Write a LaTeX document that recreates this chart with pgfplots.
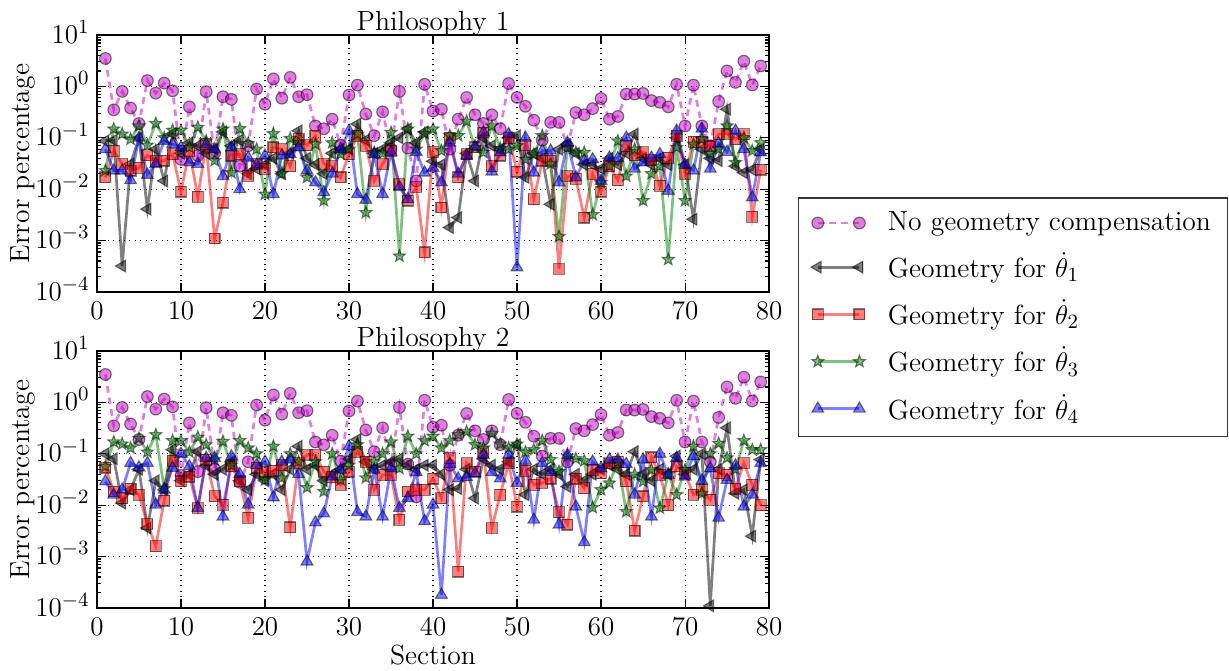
\documentclass[border=0pt,12pt]{standalone}
\usepackage{pgfplots}
\usepackage{pgfplotstable}
\pgfplotsset{compat=1.18}

% filled five-pointed star marker
\pgfdeclareplotmark{fstar}{%
  \pgfpathmoveto{\pgfpointpolar{90}{\pgfplotmarksize}}%
  \pgfpathlineto{\pgfpointpolar{126}{0.42\pgfplotmarksize}}%
  \pgfpathlineto{\pgfpointpolar{162}{\pgfplotmarksize}}%
  \pgfpathlineto{\pgfpointpolar{198}{0.42\pgfplotmarksize}}%
  \pgfpathlineto{\pgfpointpolar{234}{\pgfplotmarksize}}%
  \pgfpathlineto{\pgfpointpolar{270}{0.42\pgfplotmarksize}}%
  \pgfpathlineto{\pgfpointpolar{306}{\pgfplotmarksize}}%
  \pgfpathlineto{\pgfpointpolar{342}{0.42\pgfplotmarksize}}%
  \pgfpathlineto{\pgfpointpolar{18}{\pgfplotmarksize}}%
  \pgfpathlineto{\pgfpointpolar{54}{0.42\pgfplotmarksize}}%
  \pgfpathclose
  \pgfusepathqfillstroke
}

\definecolor{cm}{rgb}{0.75,0,0.75}
\definecolor{cg}{rgb}{0,0.5,0}

% columns: section, no compensation, geometry for theta1..theta4
\pgfplotstableread{
x m a b c d
1 3.5 0.087 0.017 0.023 0.06
2 0.35 0.09 0.056 0.148 0.023
3 0.8 0.00032 0.031 0.118 0.023
4 0.38 0.031 0.023 0.094 0.015
5 0.19 0.1 0.026 0.17 0.10
6 1.3 0.0041 0.046 0.072 0.019
7 0.74 0.06 0.035 0.19 0.031
8 1.16 0.0145 0.036 0.1 0.087
9 0.82 0.12 0.048 0.14 0.075
10 0.038 0.05 0.009 0.14 0.065
11 0.4 0.08 0.056 0.065 0.033
12 0.045 0.07 0.0071 0.16 0.031
13 0.79 0.05 0.075 0.087 0.075
14 0.05 0.06 0.0011 0.036 0.06
15 0.63 0.13 0.0055 0.148 0.018
16 0.56 0.07 0.045 0.021 0.065
17 0.028 0.09 0.048 0.15 0.01
18 0.07 0.02 0.018 0.078 0.041
19 0.89 0.025 0.031 0.06 0.03
20 0.45 0.03 0.025 0.008 0.045
21 1.4 0.04 0.065 0.12 0.008
22 0.59 0.02 0.06 0.02 0.045
23 1.5 0.05 0.028 0.097 0.048
24 0.63 0.137 0.094 0.08 0.065
25 0.69 0.04 0.072 0.017 0.023
26 0.17 0.03 0.11 0.075 0.0135
27 0.15 0.02 0.031 0.006 0.0087
28 0.23 0.05 0.028 0.08 0.02
29 0.072 0.06 0.017 0.048 0.06
30 0.68 0.06 0.048 0.06 0.137
31 1.06 0.185 0.11 0.118 0.008
32 0.29 0.09 0.07 0.0035 0.0062
33 0.11 0.05 0.0145 0.052 0.048
34 0.32 0.06 0.031 0.05 0.008
35 0.06 0.08 0.056 0.127 0.053
36 0.8 0.1 0.0125 0.0005 0.011
37 0.063 0.148 0.006 0.148 0.0064
38 0.0145 0.08 0.011 0.06 0.053
39 1.1 0.13 0.00059 0.12 0.021
40 0.33 0.035 0.053 0.148 0.026
41 0.36 0.03 0.0044 0.056 0.0135
42 0.06 0.0018 0.1 0.11 0.08
43 0.23 0.0028 0.017 0.11 0.02
44 0.61 0.05 0.048 0.21 0.045
45 0.28 0.0145 0.065 0.065 0.068
46 0.19 0.1 0.127 0.052 0.127
47 0.28 0.07 0.028 0.17 0.022
48 0.15 0.06 0.045 0.062 0.052
49 1.14 0.1 0.1 0.06 0.118
50 0.61 0.11 0.022 0.07 0.0003
51 0.41 0.017 0.072 0.038 0.1
52 0.22 0.05 0.0064 0.048 0.021
53 0.09 0.04 0.036 0.11 0.056
54 0.2 0.0051 0.036 0.031 0.056
55 0.2 0.06 0.00028 0.0012 0.0135
56 0.07 0.075 0.018 0.065 0.08
57 0.31 0.05 0.016 0.052 0.017
58 0.28 0.03 0.0028 0.052 0.036
59 0.37 0.03 0.02 0.0032 0.038
60 0.58 0.025 0.009 0.0135 0.0145
61 0.23 0.04 0.028 0.028 0.041
62 0.26 0.03 0.015 0.087 0.04
63 0.71 0.05 0.07 0.018 0.1
64 0.71 0.118 0.046 0.06 0.025
65 0.73 0.04 0.053 0.006 0.033
66 0.53 0.03 0.037 0.02 0.041
67 0.49 0.04 0.0116 0.028 0.048
68 0.40 0.03 0.041 0.00043 0.0093
69 1.1 0.1 0.11 0.065 0.137
70 0.17 0.03 0.02 0.006 0.03
71 1.06 0.0026 0.084 0.075 0.023
72 0.17 0.06 0.084 0.094 0.15
73 0.07 0.04 0.068 0.05 0.025
74 0.51 0.036 0.118 0.06 0.078
75 2.0 0.36 0.12 0.17 0.053
76 1.2 0.028 0.094 0.033 0.137
77 3.1 0.021 0.118 0.1 0.06
78 1.07 0.024 0.0029 0.056 0.0069
79 2.5 0.06 0.024 0.08 0.052
}\philA

\pgfplotstableread{
x m a b c d
1 3.5 0.1 0.054 0.057 0.029
2 0.35 0.08 0.0185 0.17 0.016
3 0.8 0.011 0.0137 0.155 0.02
4 0.38 0.02 0.021 0.13 0.066
5 0.19 0.05 0.016 0.2 0.054
6 1.3 0.0036 0.0043 0.108 0.066
7 0.74 0.03 0.0016 0.235 0.0102
8 1.16 0.02 0.0123 0.021 0.02
9 0.82 0.12 0.073 0.18 0.053
10 0.038 0.03 0.029 0.18 0.1
11 0.4 0.04 0.036 0.108 0.057
12 0.045 0.11 0.0088 0.21 0.0088
13 0.79 0.06 0.077 0.15 0.083
14 0.05 0.04 0.015 0.077 0.083
15 0.63 0.05 0.0102 0.174 0.006
16 0.56 0.07 0.057 0.06 0.089
17 0.028 0.03 0.029 0.18 0.04
18 0.07 0.02 0.0057 0.13 0.0102
19 0.89 0.04 0.054 0.1 0.06
20 0.45 0.03 0.045 0.031 0.07
21 1.4 0.04 0.047 0.14 0.0142
22 0.59 0.02 0.06 0.034 0.07
23 1.5 0.05 0.0037 0.1 0.077
24 0.63 0.14 0.066 0.07 0.04
25 0.69 0.05 0.095 0.022 0.0008
26 0.17 0.06 0.095 0.07 0.0046
27 0.15 0.03 0.045 0.0185 0.0069
28 0.23 0.04 0.035 0.1 0.036
29 0.072 0.05 0.025 0.031 0.049
30 0.68 0.08 0.045 0.06 0.14
31 1.06 0.19 0.11 0.15 0.0073
32 0.29 0.07 0.07 0.034 0.006
33 0.11 0.05 0.02 0.07 0.049
34 0.32 0.06 0.039 0.1 0.006
35 0.06 0.07 0.039 0.17 0.052
36 0.8 0.08 0.0052 0.052 0.0088
37 0.063 0.06 0.0185 0.22 0.0137
38 0.0145 0.05 0.02 0.1 0.044
39 1.1 0.06 0.02 0.18 0.0049
40 0.33 0.06 0.033 0.22 0.0102
41 0.36 0.04 0.0137 0.13 0.00018
42 0.06 0.02 0.083 0.18 0.063
43 0.23 0.021 0.00051 0.235 0.033
44 0.61 0.05 0.066 0.27 0.035
45 0.28 0.0137 0.045 0.15 0.042
46 0.19 0.08 0.108 0.13 0.095
47 0.28 0.06 0.0036 0.25 0.044
48 0.15 0.05 0.016 0.155 0.033
49 1.14 0.07 0.066 0.13 0.095
50 0.61 0.15 0.0094 0.155 0.027
51 0.41 0.016 0.047 0.108 0.073
52 0.22 0.05 0.025 0.12 0.0052
53 0.09 0.04 0.027 0.18 0.066
54 0.2 0.05 0.033 0.077 0.044
55 0.2 0.04 0.0073 0.045 0.0042
56 0.07 0.023 0.0042 0.09 0.095
57 0.31 0.04 0.033 0.08 0.0094
58 0.28 0.03 0.0215 0.073 0.0019
59 0.37 0.04 0.049 0.009 0.07
60 0.58 0.05 0.042 0.02 0.052
61 0.23 0.06 0.066 0.027 0.077
62 0.26 0.05 0.07 0.07 0.077
63 0.71 0.04 0.029 0.0075 0.063
64 0.71 0.11 0.0032 0.04 0.016
65 0.73 0.04 0.0148 0.029 0.077
66 0.53 0.03 0.085 0.049 0.006
67 0.49 0.05 0.039 0.0088 0.1
68 0.40 0.04 0.01 0.04 0.039
69 1.1 0.09 0.057 0.016 0.083
70 0.17 0.04 0.042 0.049 0.036
71 1.06 0.05 0.016 0.14 0.09
72 0.17 0.1 0.02 0.017 0.03
73 0.07 0.00011 0.0127 0.1 0.052
74 0.51 0.05 0.042 0.16 0.0057
75 2.0 0.32 0.039 0.083 0.031
76 1.2 0.017 0.021 0.05 0.059
77 3.1 0.02 0.066 0.18 0.0094
78 1.07 0.0025 0.025 0.12 0.016
79 2.5 0.077 0.01 0.12 0.066
}\philB

\pgfplotsset{
  nocomp/.style={color=cm, opacity=0.5, line width=1.2pt, dash pattern=on 3pt off 2.2pt,
    mark=*, mark size=2.6pt, mark options={solid, line width=0.5pt, draw=black, fill=cm}},
  thA/.style={color=black, opacity=0.5, line width=1.2pt,
    mark=triangle*, mark size=3pt, mark options={rotate=90, line width=0.5pt, draw=black, fill=black}},
  thB/.style={color=red, opacity=0.5, line width=1.2pt,
    mark=square*, mark size=2.4pt, mark options={line width=0.5pt, draw=black, fill=red}},
  thC/.style={color=cg, opacity=0.5, line width=1.2pt,
    mark=fstar, mark size=2.8pt, mark options={line width=0.5pt, draw=black, fill=cg}},
  thD/.style={color=blue, opacity=0.5, line width=1.2pt,
    mark=triangle*, mark size=3pt, mark options={line width=0.5pt, draw=black, fill=blue}},
}

\newcommand\allseries[1]{%
  \addplot[nocomp] table[x=x, y=m] {#1};
  \addplot[thA] table[x=x, y=a] {#1};
  \addplot[thB] table[x=x, y=b] {#1};
  \addplot[thC] table[x=x, y=c] {#1};
  \addplot[thD] table[x=x, y=d] {#1};
}

\begin{document}
\fontsize{12.3}{14.8}\selectfont
\begin{tikzpicture}

\begin{axis}[at={(43.1pt,-15.56pt)}, anchor=north west,
  scale only axis, width=298.7pt, height=114.2pt,
  xmin=0, xmax=80, ymin=1e-4, ymax=10, ymode=log,
  xtick={0,10,...,80}, ytick={1e-4,1e-3,1e-2,1e-1,1,10},
  yticklabel style={anchor=base east, yshift=-3.6pt, xshift=1pt},
  grid=major, major grid style={dotted, black, line width=0.5pt},
  tick align=inside, major tick length=4pt, minor tick length=2pt,
  every tick/.style={black, line width=0.5pt},
  axis line style={line width=0.8pt},
  ylabel={Error percentage}, ylabel style={yshift=-8.2pt},
  title={Philosophy 1}, title style={yshift=-10.7pt},
  legend image code/.code={\draw[#1] plot coordinates {(0pt,0pt) (18.5pt,0pt)};},
  legend style={at={(1.0432,-0.099)}, anchor=west, draw=black!80, line width=0.5pt,
    fill=white, inner xsep=5.5pt, inner ysep=4pt, row sep=4pt, column sep=8pt,
    nodes={inner sep=2pt}},
  legend cell align=left]
  \allseries{\philA}
  \legend{No geometry compensation, Geometry for $\dot{\theta}_1$,
    Geometry for $\dot{\theta}_2$, Geometry for $\dot{\theta}_3$,
    Geometry for $\dot{\theta}_4$}
\end{axis}

\begin{axis}[at={(43.1pt,-156.0pt)}, anchor=north west,
  scale only axis, width=298.7pt, height=114.2pt,
  xmin=0, xmax=80, ymin=1e-4, ymax=10, ymode=log,
  xtick={0,10,...,80}, ytick={1e-4,1e-3,1e-2,1e-1,1,10},
  yticklabel style={anchor=base east, yshift=-3.6pt, xshift=1pt},
  grid=major, major grid style={dotted, black, line width=0.5pt},
  tick align=inside, major tick length=4pt, minor tick length=2pt,
  every tick/.style={black, line width=0.5pt},
  axis line style={line width=0.8pt},
  ylabel={Error percentage}, ylabel style={yshift=-8.2pt},
  xlabel={Section}, xlabel style={yshift=4pt},
  title={Philosophy 2}, title style={yshift=-10.7pt}]
  \allseries{\philB}
\end{axis}

% fixed page frame
\pgfresetboundingbox
\path[use as bounding box] (0pt,0pt) rectangle (546.2pt,-297.8pt);
\end{tikzpicture}
\end{document}
